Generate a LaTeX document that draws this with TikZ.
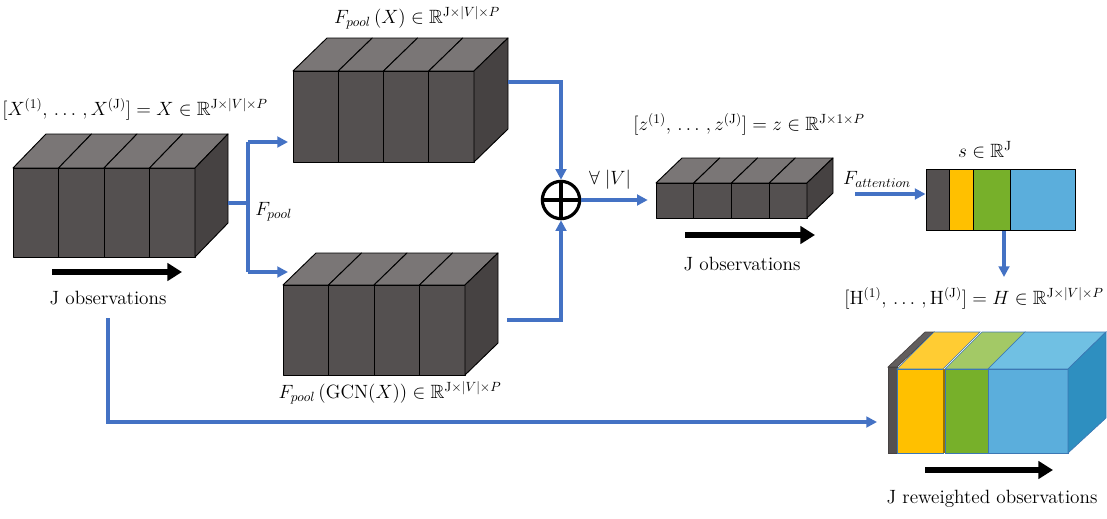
\documentclass[tikz,border=0pt]{standalone}
\usepackage{amssymb}
\usepackage{fontspec}
\usetikzlibrary{arrows.meta,fit,calc}
\definecolor{cfront}{RGB}{84,80,80}
\definecolor{ctop}{RGB}{122,118,118}
\definecolor{cside}{RGB}{70,66,66}
\definecolor{cblue}{RGB}{68,114,196}
\definecolor{yfront}{RGB}{255,192,0}
\definecolor{ytop}{RGB}{255,204,51}
\definecolor{gfront}{RGB}{119,176,42}
\definecolor{gtop}{RGB}{163,201,102}
\definecolor{bfront}{RGB}{91,174,220}
\definecolor{btop}{RGB}{112,192,227}
\definecolor{bside}{RGB}{46,143,192}
\definecolor{bedge}{RGB}{60,120,180}

% #1 name, #2 x0, #3 y0, #4 slab width, #5 height, #6 dx, #7 dy, #8 number of slabs
\newcommand\drawslabs[8]{%
  \foreach \i in {1,...,#8}{
    \pgfmathsetmacro\xa{#2+(\i-1)*#4}
    \pgfmathsetmacro\xb{#2+\i*#4}
    \filldraw[fill=ctop, edge] (\xa,#3) -- (\xb,#3) -- (\xb+#6,#3-#7) -- (\xa+#6,#3-#7) -- cycle;
    \filldraw[fill=cfront, edge] (\xa,#3) rectangle (\xb,#3+#5);
  }
  \filldraw[fill=cside, edge] (#2+#8*#4,#3) -- (#2+#8*#4+#6,#3-#7) -- (#2+#8*#4+#6,#3+#5-#7) -- (#2+#8*#4,#3+#5) -- cycle;
  \node[fit={(#2,#3) (#2+#8*#4,#3+#5)}, inner sep=0pt] (#1) {};
}

\tikzset{
  edge/.style={draw=black, line width=0.7pt, line join=round},
  conn/.style={draw=cblue, line width=2.4pt},
  arr/.style={-{Triangle[length=8pt,width=8pt]}},
  bigarrow/.style={draw=black, line width=4pt, -{Triangle[length=11pt,width=13pt]}},
  lbl/.style={inner sep=0pt, font=\fontsize{14.4}{17}\selectfont},
}

\begin{document}
\begin{tikzpicture}[x=0.75pt, y=-0.75pt]
\useasboundingbox (0,0) rectangle (1107,518);

% ---- blocks ----
\drawslabs{X}{13}{168}{45.5}{89}{33}{34}{4}
\drawslabs{P1}{293}{71}{45.25}{91}{34}{33}{4}
\drawslabs{P2}{283}{285}{45.5}{90}{33}{32}{4}
\drawslabs{Z}{656}{183}{37.75}{35}{26}{25}{4}

% ---- attention vector ----
\node[fit={(926,169) (949,230)}, inner sep=0pt, fill=cfront, draw=black, line width=0.7pt] (s1) {};
\node[fit={(949,169) (973,230)}, inner sep=0pt, fill=yfront, draw=black, line width=0.7pt] (s2) {};
\node[fit={(973,169) (1010,230)}, inner sep=0pt, fill=gfront, draw=black, line width=0.7pt] (s3) {};
\node[fit={(1010,169) (1075,230)}, inner sep=0pt, fill=bfront, draw=black, line width=0.7pt] (s4) {};

% ---- reweighted block H ----
\filldraw[fill=ctop!80!black, draw=cside, line width=0.5pt] (888,367) -- (897,367) -- (934,332) -- (925,332) -- cycle;
\filldraw[fill=cfront, draw=cside, line width=0.5pt] (888,367) rectangle (897,453);
\filldraw[fill=ytop, draw=bedge, line width=0.5pt] (897,369) -- (943,369) -- (980,332) -- (934,332) -- cycle;
\filldraw[fill=yfront, draw=bedge, line width=0.5pt] (897,369) rectangle (943,453);
\fill[yfront!60!black] (943,369) rectangle (945,453);
\filldraw[fill=gtop, draw=bedge, line width=0.5pt] (945,369) -- (988,369) -- (1025,332) -- (982,332) -- cycle;
\filldraw[fill=gfront, draw=bedge, line width=0.5pt] (945,369) rectangle (988,453);
\filldraw[fill=btop, draw=bedge, line width=0.5pt] (988,369) -- (1068,369) -- (1106,332) -- (1025,332) -- cycle;
\filldraw[fill=bfront, draw=bedge, line width=0.5pt] (988,369) rectangle (1068,453);
\filldraw[fill=bside, draw=bedge, line width=0.5pt] (1068,369) -- (1106,332) -- (1106,418) -- (1068,453) -- cycle;
\node[fit={(888,369) (1068,453)}, inner sep=0pt] (H) {};

% ---- plus ----
\node[circle, draw=black, line width=2.4pt, minimum size=28pt, inner sep=0pt] (plus) at (561,200) {};
\draw[black, line width=2.4pt] (plus.north) -- (plus.south) (plus.west) -- (plus.east);

% ---- coordinates ----
\coordinate (Xout) at (228,203);
\coordinate (split) at (248,203);
\coordinate (sTop) at (248,142);
\coordinate (sBot) at (248,272);
\coordinate (P1in) at (288,142);
\coordinate (P2in) at (288,272);
\coordinate (P1out) at (508,82);
\coordinate (P2out) at (507,320);
\coordinate (faStart) at (855,194);
\coordinate (sd1) at (1004,231);
\coordinate (sd2) at (1004,277);
\coordinate (jo) at (108,318);
\coordinate (Hin) at (877,422);
\coordinate (a1s) at (52,272);   \coordinate (a1e) at (182,272);
\coordinate (a2s) at (685,235);  \coordinate (a2e) at (815,235);
\coordinate (a3s) at (925,470);  \coordinate (a3e) at (1053,470);

% ---- connectors ----
\draw[conn] (Xout) -- (split);
\draw[conn] (sTop) -- (sBot);
\draw[conn, arr] (sTop) -- (P1in);
\draw[conn, arr] (sBot) -- (P2in);
\draw[conn, arr] (P1out) -| (plus.north);
\draw[conn, arr] (P2out) -| (plus.south);
\draw[conn, arr, shorten >=6pt] (plus.east) -- (plus.east -| Z.west);
\draw[conn, arr] (faStart) -- (faStart -| s1.west);
\draw[conn, arr] (sd1) -- (sd2);
\draw[conn, arr] (jo) |- (Hin);

\draw[bigarrow] (a1s) -- (a1e);
\draw[bigarrow] (a2s) -- (a2e);
\draw[bigarrow] (a3s) -- (a3e);

% ---- labels ----
\node[lbl] (lX) at (135,109) {$[X^{(1)},\,\ldots\,,X^{(\mathrm{J})}] = X\in\mathbb{R}^{\mathrm{J}\times|V|\times P}$};
\node[lbl] (jX) at (108,298) {J observations};
\node[lbl, anchor=west] (fp) at (255,212) {$F_{pool}$};
\node[lbl] (lP1) at (417,18) {$F_{pool}\,(X)\in\mathbb{R}^{\mathrm{J}\times|V|\times P}$};
\node[lbl] (lP2) at (390,393) {$F_{pool}\,(\mathrm{GCN}(X))\in\mathbb{R}^{\mathrm{J}\times|V|\times P}$};
\node[lbl] (fa) at (610,180) {$\forall\;|V|$};
\node[lbl] (lZ) at (749,124) {$[z^{(1)},\,\ldots\,,z^{(\mathrm{J})}] = z\in\mathbb{R}^{\mathrm{J}\times 1\times P}$};
\node[lbl] (jZ) at (742,264) {J observations};
\node[lbl] (fatt) at (877,179) {$F_{attention}$};
\node[lbl] (ls) at (985,150) {$s\in\mathbb{R}^{\mathrm{J}}$};
\node[lbl] (lH) at (974,298) {$[\mathrm{H}^{(1)},\,\ldots\,,\mathrm{H}^{(\mathrm{J})}] = H\in\mathbb{R}^{\mathrm{J}\times|V|\times P}$};
\node[lbl] (jH) at (992,499) {J reweighted observations};
\end{tikzpicture}
\end{document}
